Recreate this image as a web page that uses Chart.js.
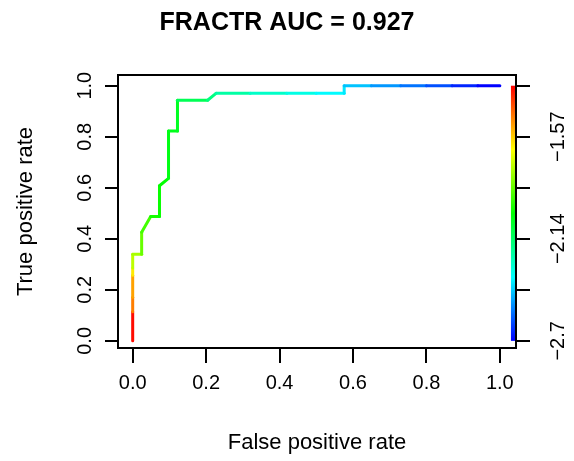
<!DOCTYPE html>
<html>
<head>
<meta charset="utf-8">
<script src="https://cdn.jsdelivr.net/npm/chart.js@4.4.1/dist/chart.umd.min.js"></script>
<style>
  html, body { margin: 0; padding: 0; background: #fff; }
  #wrap { width: 574px; height: 461px; }
</style>
</head>
<body>
<div id="wrap"><canvas id="roc"></canvas></div>
<script>
// ROC curve
const fpr = [0, 0, 0, 0, 0, 0, 0.0244, 0.0244, 0.049, 0.073, 0.073, 0.0976, 0.0976, 0.122, 0.122, 0.204, 0.227, 0.32, 0.42, 0.50, 0.576, 0.576, 0.65, 0.73, 0.80, 0.87, 0.94, 1.0];
const tpr = [0, 0.114, 0.171, 0.257, 0.286, 0.339, 0.339, 0.426, 0.487, 0.487, 0.608, 0.637, 0.823, 0.823, 0.943, 0.943, 0.970, 0.970, 0.970, 0.970, 0.970, 1.0, 1.0, 1.0, 1.0, 1.0, 1.0, 1.0];
const cutoff = [-1.29, -1.30, -1.46, -1.51, -1.61, -1.73, -1.76, -1.85, -1.90, -1.96, -1.98, -1.99, -2.02, -2.03, -2.04, -2.11, -2.17, -2.22, -2.27, -2.31, -2.35, -2.38, -2.43, -2.49, -2.54, -2.59, -2.65, -2.70];

const axisTicks = [0, 0.2, 0.4, 0.6, 0.8, 1.0];
// colour bar on the right
const cbTickPos = [0, 0.2, 0.4, 0.6, 0.8, 1.0];
const cbTickLabels = ['\u22122.7', '', '\u22122.14', '', '\u22121.57', ''];
const cutMin = -2.7, cutMax = -1.285;

const FONT = '"Liberation Sans", Arial, sans-serif';

function rainbow(c) {
    let f = (c - cutMin) / (cutMax - cutMin);
    f = Math.max(0, Math.min(1, f));
    return 'hsl(' + (240 * (1 - f)) + ', 100%, 50%)';
}

const points = fpr.map((x, i) => ({ x: x, y: tpr[i] }));

// box, rotated y labels, colour bar
const rPlot = {
    id: 'rPlot',
    afterDraw(chart) {
        const { ctx, chartArea: a, scales } = chart;
        ctx.save();
        // colour bar
        const xs = scales.x, ys = scales.y;
        const bx = xs.getPixelForValue(1.037);
        const top = ys.getPixelForValue(1), bot = ys.getPixelForValue(0);
        const g = ctx.createLinearGradient(0, top, 0, bot);
        for (let i = 0; i <= 8; i++) {
            g.addColorStop(i / 8, 'hsl(' + (240 * i / 8) + ', 100%, 50%)');
        }
        ctx.fillStyle = g;
        ctx.fillRect(bx - 2.5, top, 5, bot - top);

        // box
        ctx.strokeStyle = '#000';
        ctx.lineWidth = 2;
        ctx.strokeRect(a.left, a.top, a.right - a.left, a.bottom - a.top);

        // rotated tick labels
        ctx.fillStyle = '#000';
        ctx.font = '20px ' + FONT;
        ctx.textAlign = 'center';
        ctx.textBaseline = 'middle';
        axisTicks.forEach(v => {
            ctx.save();
            ctx.translate(85, ys.getPixelForValue(v));
            ctx.rotate(-Math.PI / 2);
            ctx.fillText(v.toFixed(1), 0, 0);
            ctx.restore();
        });
        const y2 = scales.y2;
        cbTickPos.forEach((v, i) => {
            if (!cbTickLabels[i]) return;
            ctx.save();
            ctx.translate(558, y2.getPixelForValue(v));
            ctx.rotate(-Math.PI / 2);
            ctx.fillText(cbTickLabels[i], 0, 0);
            ctx.restore();
        });
        ctx.restore();
    }
};

const gridOpts = {
    display: true,
    drawOnChartArea: false,
    drawTicks: true,
    tickLength: 14,
    color: '#000',
    lineWidth: 2
};

new Chart(document.getElementById('roc'), {
    type: 'scatter',
    data: {
        datasets: [{
            data: points,
            showLine: true,
            borderWidth: 3,
            pointRadius: 0,
            tension: 0,
            borderJoinStyle: 'round',
            borderCapStyle: 'round',
            segment: {
                borderColor: c => rainbow(cutoff[c.p1DataIndex])
            }
        }]
    },
    options: {
        responsive: true,
        maintainAspectRatio: false,
        animation: false,
        devicePixelRatio: 1,
        layout: { padding: 0 },
        plugins: {
            legend: { display: false },
            tooltip: { enabled: false },
            title: {
                display: true,
                text: 'FRACTR AUC = 0.927',
                color: '#000',
                font: { family: FONT, size: 25, weight: 'bold' },
                padding: { top: 8, bottom: 37 }
            }
        },
        scales: {
            x: {
                type: 'linear',
                min: -0.04,
                max: 1.044,
                afterBuildTicks: s => { s.ticks = axisTicks.map(v => ({ value: v })); },
                afterFit: s => { s.height = 113; },
                grid: Object.assign({}, gridOpts, { tickLength: 15 }),
                border: { display: true, color: '#000', width: 2 },
                ticks: {
                    color: '#000',
                    font: { family: FONT, size: 20 },
                    padding: 8,
                    maxRotation: 0,
                    autoSkip: false,
                    callback: v => v.toFixed(1)
                },
                title: {
                    display: true,
                    text: 'False positive rate',
                    color: '#000',
                    font: { family: FONT, size: 22 },
                    padding: { top: 0, bottom: 5 }
                }
            },
            y: {
                type: 'linear',
                position: 'left',
                min: -0.028,
                max: 1.042,
                afterBuildTicks: s => { s.ticks = axisTicks.map(v => ({ value: v })); },
                afterFit: s => { s.width = 118; },
                grid: Object.assign({}, gridOpts, { tickLength: 13 }),
                border: { display: true, color: '#000', width: 2 },
                ticks: { display: false },
                title: {
                    display: true,
                    text: 'True positive rate',
                    color: '#000',
                    font: { family: FONT, size: 22 },
                    padding: { top: 13, bottom: 0 }
                }
            },
            y2: {
                type: 'linear',
                position: 'right',
                min: -0.028,
                max: 1.042,
                afterBuildTicks: s => { s.ticks = cbTickPos.map(v => ({ value: v })); },
                afterFit: s => { s.width = 58; },
                grid: gridOpts,
                border: { display: true, color: '#000', width: 2 },
                ticks: { display: false }
            }
        }
    },
    plugins: [rPlot]
});
</script>
</body>
</html>
